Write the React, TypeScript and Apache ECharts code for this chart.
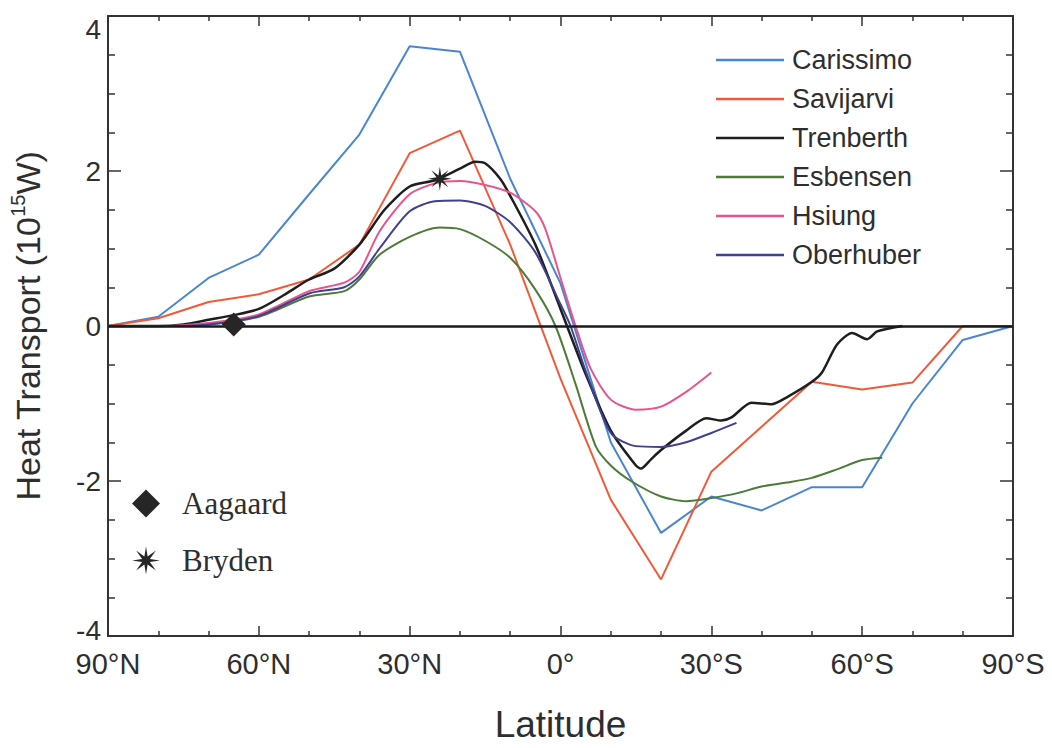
import React, { useEffect, useRef } from "react";
import * as echarts from "echarts";

// Latitude (deg, north positive) vs heat transport (10^15 W)
const carissimo: number[][] = [
  [90, 0], [80, 0.12], [70, 0.62], [60, 0.92], [50, 1.7], [40, 2.47], [30, 3.61], [20, 3.54],
  [10, 1.9], [0, 0.55], [-10, -1.5], [-20, -2.67], [-30, -2.2], [-40, -2.38], [-50, -2.08],
  [-60, -2.08], [-70, -1.0], [-80, -0.18], [-90, 0],
];
const savijarvi: number[][] = [
  [90, 0], [80, 0.1], [70, 0.31], [60, 0.41], [50, 0.6], [40, 1.05], [30, 2.23], [20, 2.52],
  [10, 1.05], [0, -0.68], [-10, -2.24], [-20, -3.27], [-30, -1.88], [-40, -1.3], [-50, -0.72],
  [-60, -0.82], [-70, -0.73], [-80, 0], [-90, 0],
];
const trenberth: number[][] = [
  [90, 0], [80, 0], [75, 0.02], [70, 0.08], [65, 0.14], [60, 0.22], [55, 0.4], [50, 0.6],
  [45, 0.74], [40, 1.05], [35, 1.5], [30, 1.8], [25, 1.88], [20, 2.03], [17, 2.12], [15, 2.1],
  [12, 1.9], [10, 1.68], [5, 1.05], [0, 0.22], [-5, -0.62], [-10, -1.35], [-15, -1.8],
  [-16, -1.84], [-18, -1.72], [-20, -1.6], [-25, -1.35], [-29, -1.19], [-32, -1.22],
  [-34, -1.18], [-38, -0.99], [-42, -1.01], [-45, -0.92], [-50, -0.72], [-52, -0.6],
  [-55, -0.24], [-58, -0.09], [-61, -0.17], [-63, -0.07], [-68, 0],
];
const esbensen: number[][] = [
  [90, 0], [80, 0], [70, 0.02], [60, 0.12], [50, 0.38], [43, 0.45], [40, 0.6], [36, 0.92],
  [30, 1.15], [24, 1.27], [20, 1.25], [15, 1.1], [10, 0.88], [5, 0.47], [1, 0], [-3, -0.75],
  [-7, -1.55], [-10, -1.8], [-14, -2.0], [-20, -2.2], [-25, -2.26], [-30, -2.22], [-35, -2.16],
  [-40, -2.07], [-45, -2.02], [-50, -1.96], [-55, -1.85], [-60, -1.73], [-64, -1.7],
];
const hsiung: number[][] = [
  [90, 0], [80, 0], [70, 0.04], [60, 0.15], [50, 0.45], [43, 0.56], [40, 0.7], [36, 1.22],
  [30, 1.7], [25, 1.84], [20, 1.87], [15, 1.82], [10, 1.72], [5, 1.48], [3, 1.25], [0, 0.62],
  [-3, 0], [-6, -0.55], [-10, -0.95], [-15, -1.08], [-20, -1.04], [-25, -0.85], [-30, -0.6],
];
const oberhuber: number[][] = [
  [90, 0], [80, 0], [70, 0.02], [60, 0.13], [50, 0.42], [43, 0.5], [40, 0.64], [36, 1.0],
  [30, 1.48], [25, 1.61], [20, 1.62], [15, 1.55], [10, 1.34], [5, 0.95], [0, 0.28], [-2, 0],
  [-5, -0.58], [-10, -1.38], [-15, -1.55], [-20, -1.56], [-25, -1.5], [-30, -1.38], [-35, -1.25],
];
const aagaard: number[][] = [[65, 0.02]];
const bryden: number[][] = [[24, 1.9]];

const lineNames = ["Carissimo", "Savijarvi", "Trenberth", "Esbensen", "Hsiung", "Oberhuber"];
const lineData = [carissimo, savijarvi, trenberth, esbensen, hsiung, oberhuber];
const lineColors = ["#4a86d0", "#f05a3a", "#1e1e1e", "#4e7a3a", "#e8558c", "#404090"];
const lineSmooth = [false, false, 0.25, 0.25, 0.25, 0.25];
const yTicks = { min: -4, max: 4, interval: 2 };
const xTicks = { min: -90, max: 90, interval: 30 };

const STAR =
  "path://M10 0L11.15 7.23L17.07 2.93L12.77 8.85L20 10L12.77 11.15L17.07 17.07L11.15 12.77L10 20L8.85 12.77L2.93 17.07L7.23 11.15L0 10L7.23 8.85L2.93 2.93L8.85 7.23Z";

const TEXT = "#2e2e2e";
const MARK = "#262626";
const SANS = "'Liberation Sans', Arial, Helvetica, sans-serif";
const SERIF = "'Liberation Serif', 'Times New Roman', serif";

const latLabel = (v: number) => (v === 0 ? "0°" : v > 0 ? `${v}°N` : `${-v}°S`);

export default function App() {
  const ref = useRef<HTMLDivElement>(null);
  useEffect(() => {
    if (!ref.current) return;
    const chart = echarts.init(ref.current, undefined, { renderer: "svg" });
    const axisLine = { show: true, onZero: false, lineStyle: { color: "#333", width: 2 } };
    const xCommon = {
      type: "value" as const,
      min: xTicks.min,
      max: xTicks.max,
      interval: xTicks.interval,
      inverse: true,
      axisLine,
      axisTick: { show: true, inside: true, length: 10, lineStyle: { color: "#333", width: 1.5 } },
      minorTick: { show: true, splitNumber: 3, length: 5, lineStyle: { color: "#333", width: 1.5 } },
      splitLine: { show: false },
      minorSplitLine: { show: false },
    };
    const yCommon = {
      type: "value" as const,
      min: yTicks.min,
      max: yTicks.max,
      interval: yTicks.interval,
      axisLine,
      axisTick: { show: true, inside: true, length: 13, lineStyle: { color: "#333", width: 1.5 } },
      minorTick: { show: true, splitNumber: 4, length: 7, lineStyle: { color: "#333", width: 1.5 } },
      splitLine: { show: false },
      minorSplitLine: { show: false },
    };
    const lineSeries = lineNames.map((name, i) => ({
      name,
      type: "line",
      data: lineData[i],
      showSymbol: false,
      symbol: "none",
      smooth: lineSmooth[i],
      color: lineColors[i],
      lineStyle: { color: lineColors[i], width: i === 2 ? 2.5 : 2 },
      z: 3,
      ...(i === 2
        ? {
            markLine: {
              silent: true,
              symbol: "none",
              label: { show: false },
              lineStyle: { color: "#1a1a1a", width: 2.5, type: "solid" },
              data: [{ yAxis: 0 }],
            },
          }
        : {}),
    }));
    chart.setOption({
      animation: false,
      backgroundColor: "#ffffff",
      grid: { left: 103, right: 39, top: 16, bottom: 112 },
      legend: [
        {
          data: lineNames.map((n) => ({ name: n, icon: "rect" })),
          orient: "vertical",
          left: 711,
          top: 40,
          itemWidth: 68,
          itemHeight: 2.5,
          itemGap: 9,
          textStyle: { fontFamily: SANS, fontSize: 27, color: TEXT, lineHeight: 30, padding: [0, 0, 0, 3] },
        },
        {
          data: [
            { name: "Aagaard", icon: "diamond" },
            { name: "Bryden", icon: STAR },
          ],
          orient: "vertical",
          left: 127,
          top: 483,
          itemWidth: 28,
          itemHeight: 28,
          itemGap: 26,
          textStyle: { fontFamily: SERIF, fontSize: 31, color: TEXT, padding: [0, 0, 0, 17] },
        },
      ],
      xAxis: [
        {
          ...xCommon,
          position: "bottom",
          axisLabel: {
            show: true,
            fontFamily: SANS,
            fontSize: 29,
            color: TEXT,
            margin: 13,
            formatter: latLabel,
          },
          name: "Latitude",
          nameLocation: "middle",
          nameGap: 70,
          nameTextStyle: { fontFamily: SANS, fontSize: 37, color: TEXT },
        },
        { ...xCommon, position: "top", axisLabel: { show: false } },
      ],
      yAxis: [
        {
          ...yCommon,
          position: "left",
          axisLabel: {
            show: true,
            fontFamily: SANS,
            fontSize: 28,
            color: TEXT,
            margin: 7,
            formatter: (v: number) => (v === 4 ? "{t|4}" : v === -4 ? "{b|-4}" : String(v)),
            rich: {
              t: { fontFamily: SANS, fontSize: 28, color: TEXT, padding: [26, 0, 0, 0] },
              b: { fontFamily: SANS, fontSize: 28, color: TEXT, padding: [0, 0, 12, 0] },
            },
          },
          name: "Heat Transport (10{sup|15}W)",
          nameLocation: "middle",
          nameGap: 60,
          nameTextStyle: {
            fontFamily: SANS,
            fontSize: 34,
            color: TEXT,
            lineHeight: 40,
            rich: {
              sup: { fontFamily: SANS, fontSize: 20, color: TEXT, verticalAlign: "top", lineHeight: 22 },
            },
          },
        },
        { ...yCommon, position: "right", axisLabel: { show: false } },
      ],
      series: [
        ...lineSeries,
        {
          name: "Aagaard",
          type: "scatter",
          data: aagaard,
          symbol: "diamond",
          symbolSize: [24, 24],
          itemStyle: { color: MARK, opacity: 1 },
          z: 5,
        },
        {
          name: "Bryden",
          type: "scatter",
          data: bryden,
          symbol: STAR,
          symbolSize: 24,
          itemStyle: { color: MARK, opacity: 1 },
          z: 5,
        },
      ],
    });
    return () => chart.dispose();
  }, []);
  return (
    <div
      ref={ref}
      style={{ position: "fixed", left: 0, top: 0, width: 1052, height: 748, background: "#fff" }}
    />
  );
}
